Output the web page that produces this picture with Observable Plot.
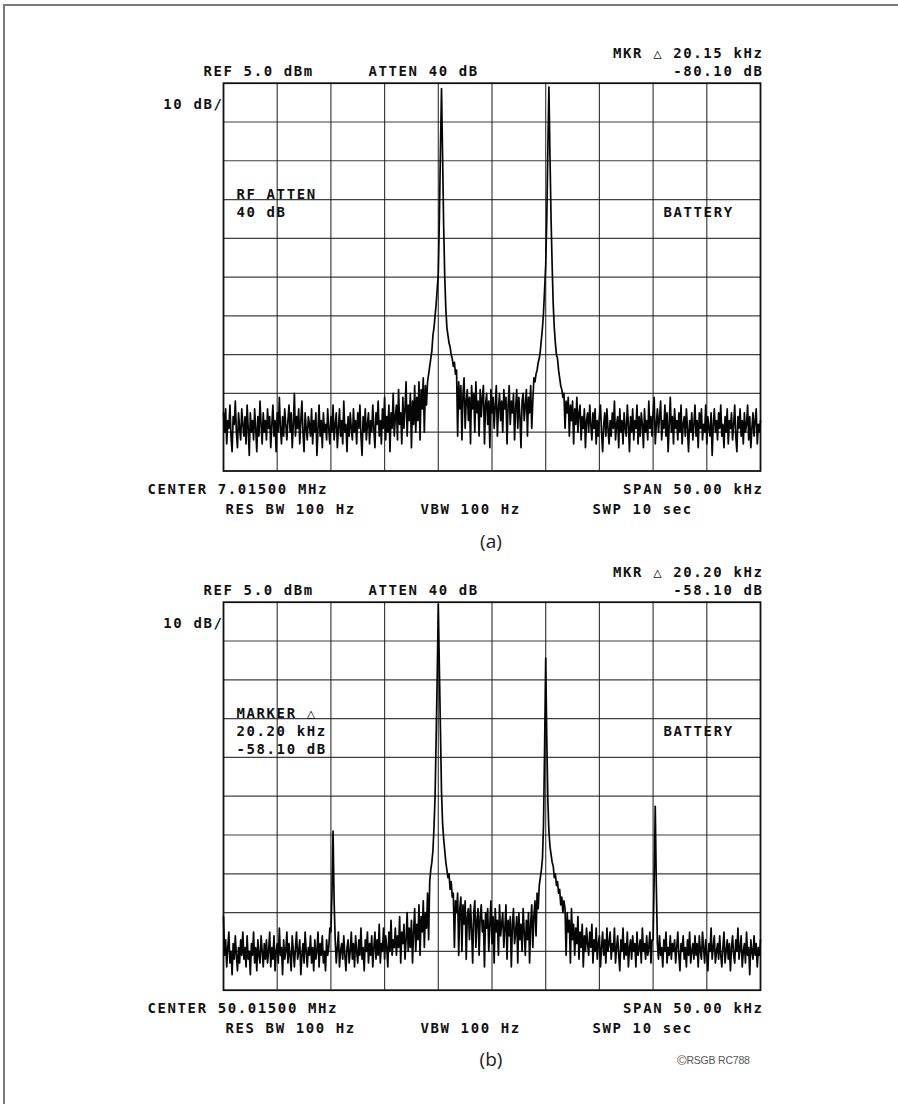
<!DOCTYPE html>
<html><head><meta charset="utf-8">
<script src="https://cdn.jsdelivr.net/npm/d3@7"></script>
<script src="https://cdn.jsdelivr.net/npm/@observablehq/plot@0.6"></script>
<style>
html,body{margin:0;padding:0;background:#fff;}
#page{position:relative;width:898px;height:1104px;overflow:hidden;background:#fff;}
#border{position:absolute;left:3px;top:4px;width:920px;height:1120px;border-top:2px solid #7a7a7a;border-left:2px solid #7a7a7a;}
.panel{position:absolute;left:0;}
.panel svg text{letter-spacing:1.6px;}
.cap{position:absolute;left:441px;width:100px;text-align:center;font-family:"Open Sans",sans-serif;font-size:19px;line-height:24px;color:#1a1a1a;}
#copy{position:absolute;left:677px;top:1053px;font-family:"Liberation Sans",Arial,sans-serif;font-size:10.5px;color:#555;letter-spacing:-0.2px;}
</style>
</head><body>
<div id="page">
  <div id="border"></div>
  <div class="panel" id="pa" style="top:0px"></div>
  <div class="cap" style="top:529px">(a)</div>
  <div class="panel" id="pb" style="top:555px"></div>
  <div class="cap" style="top:1047px">(b)</div>
  <div id="copy"><span style="font-size:13px;vertical-align:-1px">©</span>RSGB RC788</div>
</div>
<script>
// Sweep definition: 501 points from -25 kHz to +25 kHz around the centre frequency
const sweepStartKHz = -25;
const binKHz = 0.1;

// Grid divisions (5 kHz/div horizontally, 10 dB/div vertically)
const freqGridKHz = [-20, -15, -10, -5, 0, 5, 10, 15, 20];
const dbGrid = [-5, -15, -25, -35, -45, -55, -65, -75, -85];

// Trace (a): 7.015 MHz two-tone test, dBm per sweep point (one row = 2 kHz)
const traceA = [
 -80,-85,-79,-88,-82,-84,-78,-86,-90,-81,-83,-77,-85,-89,-80,-84,-87,-79,-83,-86,
 -81,-88,-78,-84,-91,-80,-85,-82,-87,-79,-84,-90,-81,-86,-77,-83,-88,-80,-85,-82,
 -87,-79,-84,-81,-89,-83,-78,-86,-82,-90,-80,-85,-76,-84,-88,-81,-86,-79,-83,-87,
 -82,-78,-85,-80,-89,-83,-75,-86,-81,-84,-79,-88,-82,-77,-85,-90,-80,-84,-87,-81,
 -83,-86,-79,-88,-82,-85,-80,-91,-84,-78,-86,-82,-89,-80,-85,-83,-87,-79,-84,-88,
 -81,-85,-78,-87,-83,-80,-89,-84,-79,-86,-82,-88,-77,-85,-83,-90,-81,-86,-80,-84,
 -87,-79,-85,-82,-88,-80,-84,-78,-86,-91,-81,-85,-79,-87,-83,-80,-88,-82,-85,-78,
 -84,-89,-80,-83,-77,-86,-82,-88,-79,-84,-76,-87,-81,-85,-78,-90,-80,-84,-75,-86,
 -81,-78,-87,-74,-83,-80,-88,-76,-84,-79,-72,-86,-78,-82,-75,-89,-77,-83,-73,-85,
 -76,-82,-72,-87,-74,-79,-71,-85,-73,-78,-72,-70,-68,-66,-64,-60,-58,-55,-52,-48,
 -44,-30,-12,3.6,-14,-32,-45,-53,-58,-60,-62,-63,-65,-66,-68,-67,-70,-69,-86,-72,
 -79,-73,-87,-75,-71,-84,-77,-74,-82,-76,-88,-73,-79,-75,-85,-72,-80,-77,-86,-74,
 -81,-76,-73,-88,-78,-75,-83,-77,-89,-74,-80,-76,-84,-78,-73,-86,-79,-75,-82,-77,
 -85,-74,-79,-76,-88,-78,-73,-83,-77,-80,-75,-87,-79,-74,-84,-76,-81,-89,-77,-75,
 -82,-78,-74,-86,-76,-80,-73,-84,-77,-71,-72,-70,-69,-67,-66,-64,-61,-58,-54,-48,
 -42,-30,-12,4.0,-14,-30,-42,-52,-58,-62,-65,-66,-69,-71,-73,-74,-76,-75,-84,-77,
 -80,-76,-86,-78,-82,-77,-88,-79,-83,-76,-85,-80,-78,-87,-81,-84,-79,-89,-82,-80,
 -85,-78,-83,-87,-80,-84,-79,-88,-82,-86,-81,-78,-85,-90,-83,-80,-86,-79,-84,-88,
 -82,-86,-80,-84,-77,-87,-83,-81,-89,-79,-85,-82,-88,-80,-84,-86,-78,-83,-90,-81,
 -85,-79,-87,-82,-84,-78,-88,-81,-86,-80,-83,-89,-79,-85,-82,-87,-77,-84,-81,-86,
 -80,-76,-88,-83,-79,-85,-81,-77,-87,-82,-84,-78,-86,-80,-90,-83,-76,-85,-81,-88,
 -79,-84,-82,-87,-80,-85,-78,-88,-83,-81,-86,-79,-84,-90,-82,-85,-80,-87,-83,-78,
 -86,-82,-89,-80,-84,-79,-87,-83,-85,-78,-88,-81,-84,-86,-80,-91,-83,-79,-85,-82,
 -87,-80,-84,-78,-86,-83,-89,-81,-85,-79,-88,-82,-84,-80,-87,-83,-78,-86,-90,-81,
 -84,-79,-86,-82,-88,-80,-85,-83,-78,-87,-81,-89,-84,-80,-86,-82,-79,-88,-83,-85,
 -82
];

// Trace (b): 50.015 MHz two-tone test with third-order products (one row = 2 kHz)
const traceB = [
 -76,-86,-82,-89,-84,-80,-88,-85,-91,-83,-87,-81,-86,-90,-84,-88,-82,-86,-80,-87,
 -84,-89,-81,-87,-85,-91,-83,-86,-80,-88,-84,-90,-82,-86,-88,-81,-85,-89,-83,-87,
 -82,-88,-85,-80,-89,-84,-87,-81,-90,-85,-83,-88,-79,-86,-84,-91,-82,-87,-85,-80,
 -88,-83,-86,-90,-81,-85,-89,-84,-80,-87,-85,-82,-91,-86,-83,-88,-80,-85,-89,-84,
 -86,-81,-88,-84,-90,-82,-87,-85,-80,-89,-83,-86,-81,-88,-85,-90,-82,-86,-84,-79,
 -80,-70,-54,-72,-82,-88,-84,-80,-89,-85,-83,-87,-81,-86,-90,-84,-82,-88,-85,-80,
 -87,-83,-89,-81,-85,-88,-82,-86,-79,-87,-84,-90,-82,-85,-80,-88,-83,-86,-81,-89,
 -84,-80,-87,-82,-86,-78,-88,-83,-85,-79,-87,-81,-84,-89,-80,-85,-77,-86,-82,-84,
 -79,-86,-81,-84,-76,-88,-80,-83,-78,-87,-82,-75,-85,-79,-84,-77,-88,-80,-74,-85,
 -78,-82,-73,-86,-76,-80,-72,-84,-75,-79,-70,-82,-67,-64,-62,-59,-53,-45,-30,-14,
 4.5,-12,-28,-44,-52,-56,-59,-62,-64,-66,-65,-69,-67,-71,-70,-84,-72,-75,-70,-86,
 -74,-71,-85,-73,-78,-72,-87,-76,-74,-82,-73,-79,-88,-75,-72,-84,-77,-74,-86,-76,
 -73,-80,-77,-89,-75,-79,-74,-85,-78,-72,-83,-76,-88,-74,-80,-77,-86,-73,-81,-78,
 -75,-84,-79,-73,-87,-77,-81,-76,-89,-78,-74,-83,-80,-76,-88,-75,-82,-78,-85,-74,
 -80,-86,-77,-82,-75,-88,-78,-73,-84,-76,-72,-81,-70,-74,-68,-66,-64,-61,-52,-32,
 -9.4,-30,-46,-54,-58,-60,-62,-63,-66,-65,-68,-67,-70,-69,-73,-71,-75,-72,-74,-86,
 -75,-80,-77,-88,-74,-82,-78,-86,-79,-83,-76,-87,-80,-84,-78,-89,-81,-85,-79,-83,
 -86,-80,-84,-78,-88,-82,-85,-79,-87,-83,-81,-89,-84,-80,-86,-82,-88,-79,-85,-83,
 -80,-87,-83,-85,-79,-88,-84,-81,-86,-90,-82,-85,-79,-87,-83,-86,-80,-89,-84,-82,
 -87,-81,-85,-83,-89,-80,-86,-84,-82,-88,-79,-85,-83,-87,-81,-86,-84,-80,-88,-82,
 -82,-66,-47.6,-68,-83,-87,-81,-86,-84,-89,-82,-85,-80,-88,-84,-86,-81,-87,-83,-85,
 -82,-88,-84,-80,-86,-90,-83,-85,-81,-87,-84,-89,-82,-86,-80,-88,-85,-83,-87,-81,
 -86,-83,-89,-81,-85,-87,-80,-84,-88,-82,-86,-90,-83,-85,-79,-87,-84,-81,-88,-85,
 -83,-87,-81,-86,-89,-84,-80,-88,-85,-82,-87,-83,-90,-84,-81,-86,-88,-82,-85,-79,
 -87,-84,-81,-89,-85,-83,-88,-80,-86,-84,-91,-82,-85,-87,-81,-86,-83,-89,-84,-86,
 -82
];

// Annotation texts
const headerLeft = ["REF 5.0 dBm", "ATTEN 40 dB"];
const mkrA = ["MKR △ 20.15 kHz", "-80.10 dB"];
const mkrB = ["MKR △ 20.20 kHz", "-58.10 dB"];
const scaleLabel = ["10 dB/"];
const innerA = ["RF ATTEN", "40 dB"];
const innerB = ["MARKER △", "20.20 kHz", "-58.10 dB"];
const sideLabel = ["BATTERY"];
const footA = ["CENTER 7.01500 MHz", "SPAN 50.00 kHz", "RES BW 100 Hz", "VBW 100 Hz", "SWP 10 sec"];
const footB = ["CENTER 50.01500 MHz", "SPAN 50.00 kHz", "RES BW 100 Hz", "VBW 100 Hz", "SWP 10 sec"];

function makePanel(trace, mkr, inner, innerDy, foot, h, mt, mb) {
  const rows = trace.map((db, i) => ({f: sweepStartKHz + i * binKHz, db}));
  const txt = {text: d => d, fontFamily: "DejaVu Sans Mono", fontSize: 14, fontWeight: "bold",
               fill: "#111", lineHeight: 18/14, lineAnchor: "middle"};
  const gridStyle = {stroke: "#1e1e1e", strokeOpacity: 0.85, strokeWidth: 1.2};
  return Plot.plot({
    width: 898, height: h,
    marginLeft: 223, marginRight: 138, marginTop: mt, marginBottom: mb,
    x: {domain: [-25, 25], axis: null},
    y: {domain: [-95, 5], axis: null},
    style: {background: "transparent", overflow: "visible"},
    marks: [
      Plot.ruleX(freqGridKHz, gridStyle),
      Plot.ruleY(dbGrid, gridStyle),
      Plot.frame({stroke: "#111", strokeWidth: 1.8}),
      Plot.line(rows, {x: "f", y: "db", stroke: "#050505", strokeWidth: 1.7}),
      Plot.text([headerLeft[0]], {...txt, frameAnchor: "top-left", textAnchor: "start", dx: -20, dy: -13}),
      Plot.text([headerLeft[1]], {...txt, frameAnchor: "top-left", textAnchor: "start", dx: 145, dy: -13}),
      Plot.text([mkr.join("\n")], {...txt, frameAnchor: "top-right", textAnchor: "end", dx: 3, dy: -22}),
      Plot.text(scaleLabel, {...txt, frameAnchor: "top-left", textAnchor: "end", dx: 0, dy: 20}),
      Plot.text([inner.join("\n")], {...txt, frameAnchor: "top-left", textAnchor: "start", dx: 13, dy: innerDy}),
      Plot.text(sideLabel, {...txt, frameAnchor: "top-left", textAnchor: "start", dx: 440, dy: 128}),
      Plot.text([foot[0]], {...txt, frameAnchor: "bottom-left", textAnchor: "start", dx: -76, dy: 17}),
      Plot.text([foot[1]], {...txt, frameAnchor: "bottom-right", textAnchor: "end", dx: 3, dy: 17}),
      Plot.text([foot[2]], {...txt, frameAnchor: "bottom-left", textAnchor: "start", dx: 2, dy: 37}),
      Plot.text([foot[3]], {...txt, frameAnchor: "bottom-left", textAnchor: "start", dx: 197, dy: 37}),
      Plot.text([foot[4]], {...txt, frameAnchor: "bottom-left", textAnchor: "start", dx: 369, dy: 37})
    ]
  });
}

document.getElementById("pa").append(makePanel(traceA, mkrA, innerA, 118.6, footA, 525, 82.7, 54.5));
document.getElementById("pb").append(makePanel(traceB, mkrB, innerB, 128.3, footB, 485, 46.7, 50.3));
</script>
</body></html>
